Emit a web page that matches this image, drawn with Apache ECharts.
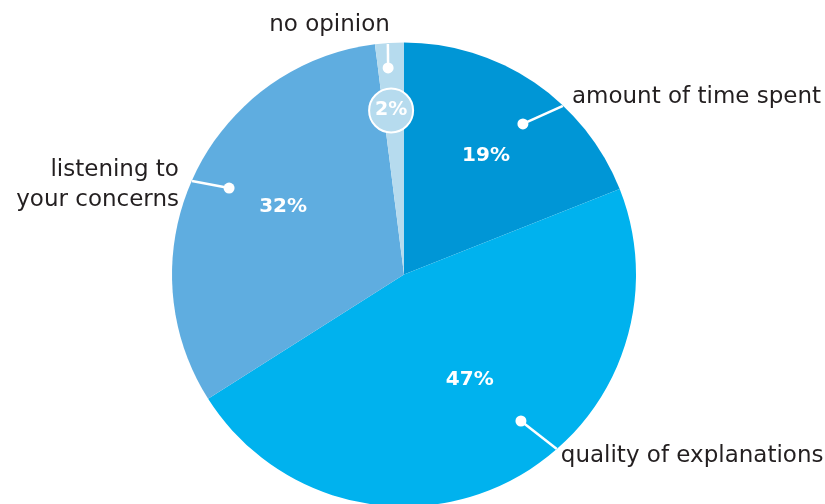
<!DOCTYPE html>
<html>
<head>
<meta charset="utf-8">
<script src="https://cdn.jsdelivr.net/npm/echarts@6/dist/echarts.min.js"></script>
<style>html,body{margin:0;padding:0;background:#fff}#c{width:825px;height:504px}</style>
</head>
<body>
<div id="c"></div>
<script>
// ---- data ----
var categories = ['amount of time spent', 'quality of explanations', 'listening to\nyour concerns', 'no opinion'];
var values = [19, 47, 32, 2];
var colors = ['#0096d6', '#00b2ee', '#5fade0', '#b6dbee'];

// ---- annotation layout (polar: [radius fraction, angle deg clockwise from top]) ----
var dotPos  = [[0.827, 38.3], [0.808, 141.4], [0.841, 296.3], [0.893, 355.6]];
var edgePos = [[0.999, 43.3], [1.0, 138.8], [0.999, 293.8], [0.996, 356.0]];
var pctPos  = [[0.621, 34.7], [0.535, 148.0], [0.597, 299.2], [0.709, 355.5]];
var textLayout = [
  {align: 'left', offset: [9, -9]},
  {align: 'left', offset: [4, 7]},
  {align: 'right', offset: [-13, 4]},
  {align: 'right', offset: [2, -19]}
];

var CX = 404, CY = 274.5, R = 232;
var font = 'DejaVu Sans';

var series = [{
  type: 'pie',
  center: [CX, CY],
  radius: R,
  startAngle: 90,
  clockwise: true,
  silent: true,
  label: {show: false},
  labelLine: {show: false},
  itemStyle: {borderWidth: 0},
  data: categories.map(function (c, i) {
    return {name: c, value: values[i], itemStyle: {color: colors[i]}};
  })
}];

categories.forEach(function (c, i) {
  series.push({
    type: 'line',
    coordinateSystem: 'polar',
    silent: true,
    lineStyle: {color: '#fff', width: 2.5, opacity: 1},
    itemStyle: {color: '#fff', borderWidth: 0, opacity: 1},
    data: [
      {value: dotPos[i], symbol: 'circle', symbolSize: 11},
      {value: edgePos[i], symbol: 'none'}
    ],
    z: 5
  });
});

series.push({
  type: 'scatter',
  coordinateSystem: 'polar',
  silent: true,
  symbolSize: 1,
  itemStyle: {color: 'transparent', opacity: 1},
  data: categories.map(function (c, i) {
    return {
      value: edgePos[i],
      label: {
        show: true,
        position: 'inside',
        formatter: c,
        align: textLayout[i].align,
        verticalAlign: 'middle',
        offset: textLayout[i].offset,
        color: '#231f20',
        opacity: 1,
        fontFamily: font,
        fontSize: 23,
        lineHeight: 30
      }
    };
  }),
  z: 6
});

series.push({
  type: 'scatter',
  coordinateSystem: 'polar',
  silent: true,
  data: values.map(function (v, i) {
    var small = v < 5;
    return {
      value: pctPos[i],
      symbol: 'circle',
      symbolSize: small ? 44 : 1,
      itemStyle: small ? {color: colors[i], borderColor: '#fff', borderWidth: 2, opacity: 1} : {color: 'transparent', opacity: 1},
      label: {
        show: true,
        position: 'inside',
        formatter: v + '%',
        color: '#fff',
        opacity: 1,
        fontFamily: font,
        fontWeight: 'bold',
        fontSize: small ? 19 : 20
      }
    };
  }),
  z: 7
});

var chart = echarts.init(document.getElementById('c'), null, {renderer: 'canvas'});
chart.setOption({
  animation: false,
  backgroundColor: '#fff',
  polar: {center: [CX, CY], radius: R},
  angleAxis: {type: 'value', min: 0, max: 360, startAngle: 90, clockwise: true, show: false},
  radiusAxis: {type: 'value', min: 0, max: 1, show: false},
  series: series
});
</script>
</body>
</html>
